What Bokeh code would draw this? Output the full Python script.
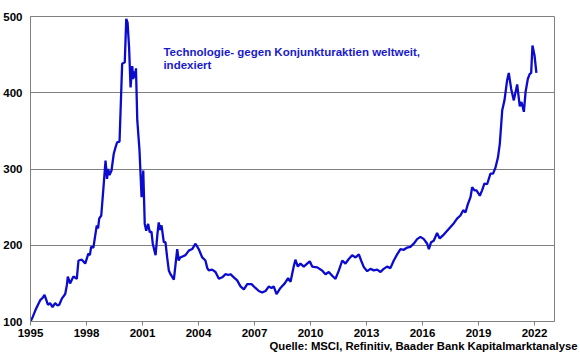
from bokeh.plotting import figure
from bokeh.models import FixedTicker, Label, Range1d, Title
from bokeh.embed import file_html
from bokeh.resources import INLINE

# Tech vs. cyclical stocks worldwide, indexed (1995 = 100); decimal years
years = [
    1995.0, 1995.12, 1995.25, 1995.4, 1995.52, 1995.65, 1995.75, 1995.85, 1995.93,
    1996.05, 1996.18, 1996.32, 1996.45, 1996.54, 1996.68, 1996.86, 1996.95,
    1997.0, 1997.12, 1997.22, 1997.3, 1997.48, 1997.57, 1997.75, 1997.93,
    1998.1, 1998.18, 1998.25, 1998.37, 1998.55, 1998.62, 1998.68, 1998.79, 1998.91,
    1999.02, 1999.1, 1999.16, 1999.23, 1999.34, 1999.46, 1999.55, 1999.64, 1999.77, 1999.91,
    2000.05, 2000.13, 2000.2, 2000.28, 2000.36, 2000.45, 2000.5, 2000.55, 2000.6, 2000.65,
    2000.72, 2000.84, 2000.95,
    2001.04, 2001.12, 2001.2, 2001.3, 2001.39, 2001.48, 2001.55, 2001.7, 2001.8, 2001.87, 2001.95,
    2002.02, 2002.14, 2002.23, 2002.32, 2002.41, 2002.5, 2002.68, 2002.86, 2002.94,
    2003.02, 2003.12, 2003.3, 2003.48, 2003.66, 2003.84,
    2004.01, 2004.2, 2004.37, 2004.47, 2004.55, 2004.73, 2004.91,
    2005.09, 2005.27, 2005.45, 2005.6, 2005.71, 2005.89,
    2006.07, 2006.25, 2006.43, 2006.61, 2006.84,
    2007.05, 2007.23, 2007.41, 2007.59, 2007.77, 2007.91,
    2008.03, 2008.18, 2008.39, 2008.62, 2008.8, 2008.93,
    2009.1, 2009.19, 2009.32, 2009.46, 2009.64, 2009.82, 2009.96,
    2010.09, 2010.36, 2010.62, 2010.8, 2010.98,
    2011.16, 2011.34, 2011.52, 2011.7, 2011.87,
    2012.05, 2012.23, 2012.41, 2012.59, 2012.71, 2012.86,
    2013.04, 2013.21, 2013.39, 2013.57, 2013.75, 2013.92,
    2014.1, 2014.28, 2014.46, 2014.64, 2014.82,
    2015.0, 2015.18, 2015.35, 2015.53, 2015.71, 2015.89,
    2016.07, 2016.25, 2016.34, 2016.46, 2016.6, 2016.78, 2016.92,
    2017.14, 2017.32, 2017.5, 2017.68, 2017.85,
    2018.03, 2018.18, 2018.3, 2018.43, 2018.57, 2018.66, 2018.78, 2018.89,
    2019.07, 2019.19, 2019.32, 2019.46, 2019.64, 2019.78, 2019.91,
    2020.04, 2020.14, 2020.27, 2020.39, 2020.53, 2020.62, 2020.75, 2020.89,
    2021.07, 2021.21, 2021.3, 2021.43, 2021.52, 2021.64, 2021.75, 2021.82, 2021.89,
    2022.0, 2022.1,
]
index_values = [
    100, 106, 114, 122, 128, 131, 135, 128, 122,
    124, 119, 124, 121, 122, 130, 136, 148,
    159, 150, 155, 159, 156, 180, 181, 176,
    189, 187, 198, 197, 226, 222, 235, 239, 276,
    311, 287, 300, 292, 298, 320, 328, 335, 336, 438,
    440, 497, 492, 460, 407, 435, 418, 428, 420, 432,
    364, 324, 263,
    298, 228, 219, 228, 217, 218, 202, 187, 215, 230, 220,
    226, 204, 204, 184, 167, 162, 155, 195, 180,
    184, 185, 187, 193, 195, 202,
    195, 184, 180, 170, 167, 168, 165,
    156, 158, 162, 161, 162, 158,
    154, 146, 142, 149, 149,
    144, 140, 138, 140, 146, 144,
    146, 136, 144, 150, 157, 152,
    172, 181, 172, 176, 172, 176, 179,
    172, 171, 167, 162, 165,
    160, 156, 167, 180, 176,
    182, 187, 184, 188, 180, 171,
    166, 169, 167, 168, 165, 169,
    172, 170, 180, 188, 195,
    194, 197, 198, 202, 208, 211,
    208, 202, 195, 204, 206, 216, 209,
    214, 219, 224, 229, 235,
    239, 246, 243, 254, 263, 276, 272, 272,
    265, 272, 281, 280, 294, 294, 302,
    315, 333, 377, 390, 416, 426, 405, 390,
    411, 382, 388, 375, 401, 418, 425, 426, 462,
    449, 426,
]
x_ticks = [1995, 1998, 2001, 2004, 2007, 2010, 2013, 2016, 2019, 2022]
y_ticks = [100, 200, 300, 400, 500]
title_lines = ["Technologie- gegen Konjunkturaktien weltweit,", "indexiert"]
source_text = "Quelle: MSCI, Refinitiv, Baader Bank Kapitalmarktanalyse"

FONT = "Liberation Sans"
GRID = "#808080"

p = figure(width=580, height=359, output_backend="svg", toolbar_location=None,
           x_range=Range1d(1995, 2023.07), y_range=Range1d(100, 500),
           min_border_left=30, min_border_right=26, min_border_top=16, min_border_bottom=38)

p.line(years, index_values, line_color="#0b0bd0", line_width=2.3)

p.outline_line_color = GRID
p.outline_line_width = 1
p.background_fill_color = "white"
p.border_fill_color = "white"

p.xgrid.visible = False
p.ygrid.ticker = FixedTicker(ticks=y_ticks)
p.ygrid.grid_line_color = GRID
p.ygrid.grid_line_width = 1

p.xaxis.ticker = FixedTicker(ticks=x_ticks)
p.yaxis.ticker = FixedTicker(ticks=y_ticks)
for ax in (p.xaxis, p.yaxis):
    ax.axis_line_color = GRID
    ax.major_tick_line_color = GRID
    ax.minor_tick_line_color = None
    ax.major_label_text_font = FONT
    ax.major_label_text_font_style = "bold"
    ax.major_label_text_font_size = "11.5px"
    ax.major_label_text_color = "black"
    ax.major_tick_in = 0
p.xaxis.major_tick_out = 4
p.xaxis.major_label_standoff = 3
p.yaxis.major_tick_out = 0
p.yaxis.major_label_standoff = 8

for i, t in enumerate(title_lines):
    p.add_layout(Label(x=2002.12, y=461 - i * 17, text=t, text_font=FONT,
                       text_font_style="bold", text_font_size="11.5px",
                       text_color="#1a1acc", text_baseline="top", text_align="left"))

p.add_layout(Title(text=source_text, align="right", offset=-23, standoff=0,
                   vertical_align="top",
                   text_font=FONT, text_font_style="bold", text_font_size="11.3px",
                   text_color="black"), "below")

open("out.html", "w").write(file_html(p, INLINE))
